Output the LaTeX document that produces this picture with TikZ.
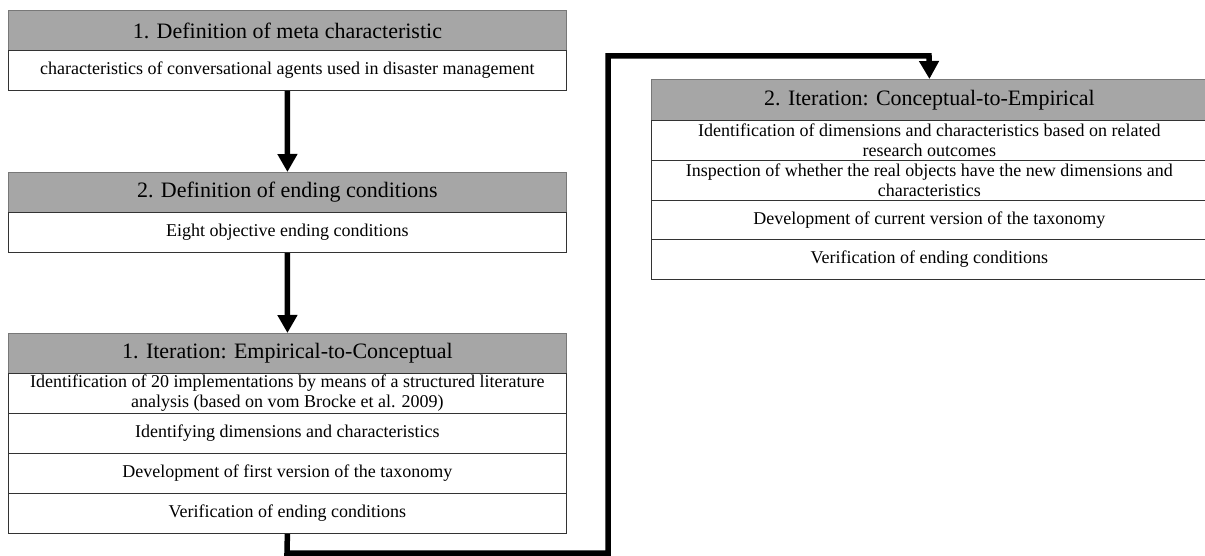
\documentclass[tikz,border=0pt]{standalone}
\usepackage{fontspec}
\setmainfont{Liberation Serif}
\usetikzlibrary{arrows.meta}
\definecolor{hdrgray}{RGB}{166,166,166}
\definecolor{edgegray}{RGB}{120,120,120}
\begin{document}
\begin{tikzpicture}[x=1pt,y=-1pt,
  hdr/.style={draw=edgegray, fill=hdrgray, line width=0.9pt, minimum height=40pt, inner sep=0pt, anchor=north west, font=\fontsize{22}{24}\selectfont},
  row/.style={draw=black!80, line width=0.8pt, minimum height=40pt, inner sep=0pt, anchor=north west, align=center, font=\fontsize{18}{20}\selectfont},
  lw/.style={minimum width=558pt},
  rw/.style={minimum width=556pt},
  flow/.style={line width=5.5pt, line join=miter, -{Triangle[width=19pt,length=18pt]}}
]
\useasboundingbox (0,0) rectangle (1205,556);
\clip (0,0) rectangle (1205,556);
% Box 1
\node[hdr,lw] (b1h) at (8,10) {1. Definition of meta characteristic};
\node[row,lw] (b1r) at (8,50) {characteristics of conversational agents used in disaster management};
% Box 2
\node[hdr,lw] (b2h) at (8,172) {2. Definition of ending conditions};
\node[row,lw] (b2r) at (8,212) {Eight objective ending conditions};
% Box 3
\node[hdr,lw] (b3h) at (8,333) {1. Iteration: Empirical-to-Conceptual};
\node[row,lw] (b3r1) at (8,373) {Identification of 20 implementations by means of a structured literature\\analysis (based on vom Brocke et al. 2009)};
\node[row,lw] (b3r2) at (8,413) {Identifying dimensions and characteristics};
\node[row,lw] (b3r3) at (8,453) {Development of first version of the taxonomy};
\node[row,lw] (b3r4) at (8,493) {Verification of ending conditions};
% Box 4
\node[hdr,rw,minimum height=41pt] (b4h) at (651,79) {2. Iteration: Conceptual-to-Empirical};
\node[row,rw] (b4r1) at (651,120) {Identification of dimensions and characteristics based on related\\research outcomes};
\node[row,rw] (b4r2) at (651,160) {Inspection of whether the real objects have the new dimensions and\\characteristics};
\node[row,rw,minimum height=39pt] (b4r3) at (651,200) {Development of current version of the taxonomy};
\node[row,rw] (b4r4) at (651,239) {Verification of ending conditions};
% connectors
\coordinate (c1) at (287,553);
\coordinate (c2) at (608,553);
\coordinate (c3) at (608,56);
\coordinate (c4) at (929,56);
\draw[flow] (b1r.south) -- (b2h.north);
\draw[flow] (b2r.south) -- (b3h.north);
\draw[flow] (b3r4.south) -- (c1) -- (c2) -- (c3) -- (c4) -- (b4h.north);
\end{tikzpicture}
\end{document}
